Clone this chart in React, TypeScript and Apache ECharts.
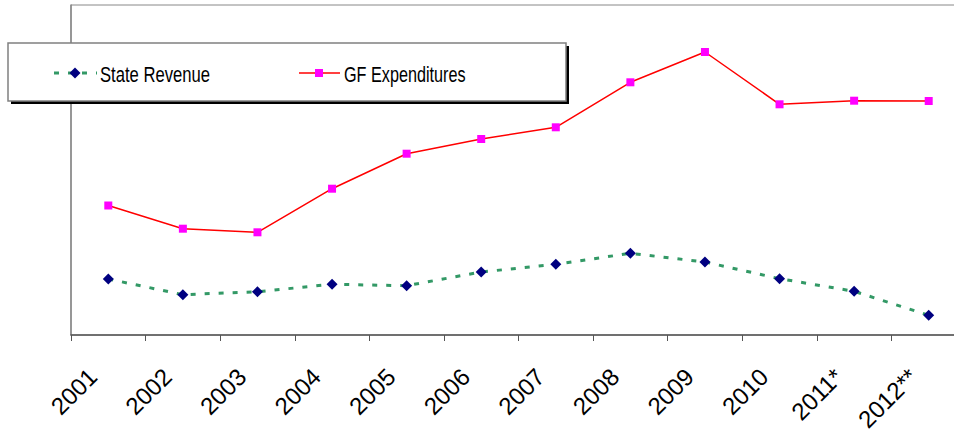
import React, { useEffect, useRef } from "react";
import * as echarts from "echarts";

const categories = ["2001", "2002", "2003", "2004", "2005", "2006", "2007", "2008", "2009", "2010", "2011*", "2012**"];
const stateRevenue = [56, 40.3, 43.3, 50.7, 49.3, 63, 70.7, 81.7, 73, 56.3, 43.7, 19.7];
const gfExpenditures = [129.5, 106.3, 102.7, 146.3, 181.3, 196, 207.7, 252.7, 283, 230.7, 234.3, 234];
const seriesNames = ["State Revenue", "GF Expenditures"];

const FONT = "'Liberation Sans', Arial, sans-serif";
const REV_LINE = "#339966";
const REV_MARK = "#000080";
const GF_LINE = "#FF0000";
const GF_MARK = "#FF00FF";

export default function App() {
  const ref = useRef<HTMLDivElement>(null);
  useEffect(() => {
    const chart = echarts.init(ref.current!, null, { renderer: "svg" });
    const ly = 73;
    chart.setOption({
      animation: false,
      grid: {
        left: 71,
        right: -12,
        top: 5,
        bottom: 99,
        show: true,
        borderColor: "#888888",
        borderWidth: 1,
        backgroundColor: "transparent",
        outerBoundsMode: "none",
      },
      xAxis: {
        type: "category",
        data: categories,
        boundaryGap: true,
        axisLine: { lineStyle: { color: "#555555", width: 1.5 } },
        axisTick: { show: true, length: 6, alignWithLabel: false, lineStyle: { color: "#555555" } },
        axisLabel: {
          rotate: 45,
          interval: 0,
          margin: 22,
          padding: [0, 22, 0, 0],
          color: "#000000",
          fontFamily: FONT,
          fontSize: 24,
        },
        splitLine: { show: false },
      },
      yAxis: {
        type: "value",
        min: 0,
        max: 330,
        axisLine: { show: true, lineStyle: { color: "#888888", width: 1.5 } },
        axisTick: { show: false },
        axisLabel: { show: false },
        splitLine: { show: false },
      },
      graphic: [
        { type: "rect", z: 5, shape: { x: 11, y: 46, width: 558, height: 58 }, style: { fill: "#000000" } },
        { type: "rect", z: 6, shape: { x: 8, y: 43, width: 558, height: 58 }, style: { fill: "#ffffff", stroke: "#808080", lineWidth: 1.5 } },
        { type: "line", z: 10, shape: { x1: 54, y1: ly, x2: 97, y2: ly }, style: { stroke: REV_LINE, lineWidth: 3, lineDash: [5, 9] } },
        { type: "polygon", z: 11, shape: { points: [[75, ly - 5.5], [80.5, ly], [75, ly + 5.5], [69.5, ly]] }, style: { fill: REV_MARK } },
        { type: "text", z: 11, x: 100, y: ly + 1, scaleX: 0.74, style: { text: seriesNames[0], fontFamily: FONT, fontSize: 22.5, fill: "#000000", textAlign: "left", textVerticalAlign: "middle" } },
        { type: "line", z: 10, shape: { x1: 299, y1: ly, x2: 340, y2: ly }, style: { stroke: GF_LINE, lineWidth: 1.5 } },
        { type: "rect", z: 11, shape: { x: 315, y: ly - 4, width: 8, height: 8 }, style: { fill: GF_MARK } },
        { type: "text", z: 11, x: 344, y: ly + 1, scaleX: 0.72, style: { text: seriesNames[1], fontFamily: FONT, fontSize: 22.5, fill: "#000000", textAlign: "left", textVerticalAlign: "middle" } },
      ],
      series: [
        {
          name: seriesNames[0],
          type: "line",
          data: stateRevenue,
          symbol: "diamond",
          symbolSize: 11,
          itemStyle: { color: REV_MARK },
          lineStyle: { color: REV_LINE, width: 3, type: [5, 9] },
          z: 3,
        },
        {
          name: seriesNames[1],
          type: "line",
          data: gfExpenditures,
          symbol: "rect",
          symbolSize: 8,
          itemStyle: { color: GF_MARK },
          lineStyle: { color: GF_LINE, width: 1.5 },
          z: 3,
        },
      ],
    });
    return () => chart.dispose();
  }, []);
  return <div ref={ref} style={{ position: "absolute", left: 0, top: 0, width: 954, height: 434 }} />;
}
